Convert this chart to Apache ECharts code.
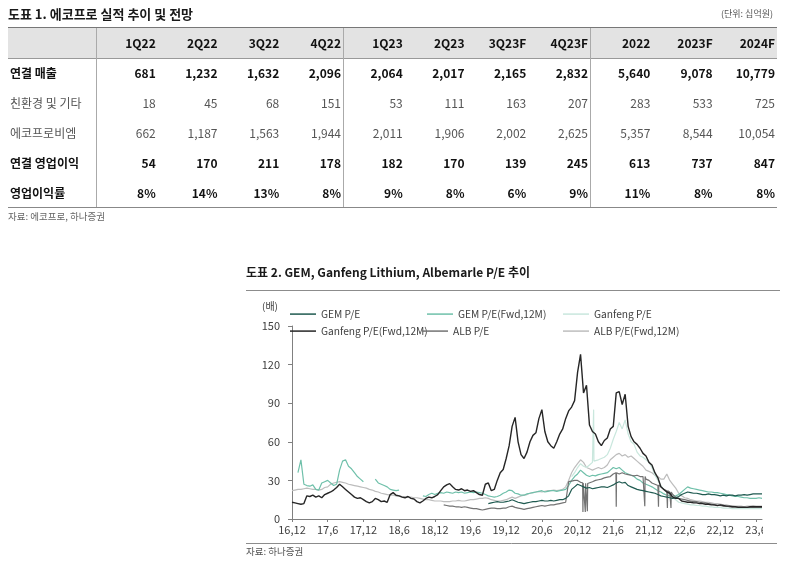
<!DOCTYPE html>
<html><head><meta charset="utf-8">
<script src="https://cdn.jsdelivr.net/npm/echarts/dist/echarts.min.js"></script>
<style>
html,body{margin:0;padding:0;background:#fff;width:787px;height:567px;overflow:hidden;font-family:'Noto Sans CJK KR','Noto Sans',sans-serif;}
#chart{position:absolute;left:0;top:0;width:787px;height:567px;}
#table{position:absolute;left:0;top:0;width:787px;height:230px;z-index:2;}
</style></head><body>
<div id="chart"></div><div id="table"></div>
<script>
// ---------------- Table 1 data ----------------
const tableTitle = '도표 1. 에코프로 실적 추이 및 전망';
const tableUnit = '(단위: 십억원)';
const tableSource = '자료: 에코프로, 하나증권';
const tableCols = ['1Q22','2Q22','3Q22','4Q22','1Q23','2Q23','3Q23F','4Q23F','2022','2023F','2024F'];
const rowLabels = ['연결 매출','친환경 및 기타','에코프로비엠','연결 영업이익','영업이익률'];
const revenue   = [681,1232,1632,2096,2064,2017,2165,2832,5640,9078,10779];
const ecoEtc    = [18,45,68,151,53,111,163,207,283,533,725];
const ecoproBM  = [662,1187,1563,1944,2011,1906,2002,2625,5357,8544,10054];
const opProfit  = [54,170,211,178,182,170,139,245,613,737,847];
const opMargin  = [8,14,13,8,9,8,6,9,11,8,8];

// ---------------- Chart 2 data (semi-monthly samples from 16.12, index/2 = months) ----------------
const chartTitle = '도표 2. GEM, Ganfeng Lithium, Albemarle P/E 추이';
const chartSource = '자료: 하나증권';
const yUnit = '(배)';
const seriesNames = ['GEM P/E','GEM P/E(Fwd,12M)','Ganfeng P/E','Ganfeng P/E(Fwd,12M)','ALB P/E','ALB P/E(Fwd,12M)'];
const N = k => Array(k).fill(null);

const gemPE = [
  ...N(24),
  ...N(24),
  ...N(18), 12,12.5,13,13.5,13,13,
  13.5,14,15,14,13,12.5, 12,12.5,13,13.5,13.5,14, 14.5,14,14,14.5,14,14.5, 15,15,16,18,23,25,
  27,26,25,24,24.5,23.5, 24,24.5,25,25,24.5,25.5, 26.5,28,29,28,28.5,26, 25,24,23,22.5,22,21.5,
  21,20.5,20,19,18,17.5, 17,16.5,16,16.5,17.5,19, 20,21,20.5,20,20,19.5, 19,19,19.5,19,19,18.5,
  18,18.5,18,18.5,18.5,18,18.5,18.5,19,18.5,19,19.5,19.5,19.5,19.5
];
const gemFwd = [
  null,null,36,46,27,26, 25.5,26.5,23,22.5,28,29, 30,28,26,27,38,45, 46,41,39,36,33,31,
  29,null,null,null,31,28, 27,26,25,23,22.5,22, 22.5,null,null,null,null,null, null,null,18,17.5,19,20,
  19,20,20.5,20,21,20.5, 20,21,20.5,21,20,20.5, 21,20.5,21,20.5,20,19, 18,17.5,17,17.5,18.5,20,
  21,22.5,22,20,19.5,18.5, 18.5,19.5,20,20.5,21,21.5, 22,21,21.5,22,22,21.5, 22,22.5,23,26,30,33,
  35,38,36,34,33,34, 33.5,34.5,35,35.5,36,38, 40,39,40,38,36,35, 34,33,31,30,28,27,
  26,25,23.5,22,21,19.5, 18.5,18,17.5,18,19,21, 23,25,24,23.5,23,22.5, 22,21.5,21,21,20.5,20.5,
  20,19.5,19,18.5,18,17.5,17.5,17,16.5,16.5,16,16,16,16.5,16
];
const ganfengPE = [
  ...N(24), ...N(24), ...N(24),
  ...N(22), 33,36,
  40,43,41,40,42,44, 45,46,47,48,50,55, 62,68,75,70,77,66, 60,58,52,49,48,46,
  44,40,34,30,26,23, 21,19,17,15,13,12.5, 12,11.5,11,11,10.5,10.5, 10,10,9.5,9.5,9,9,
  9,8.5,8.5,8.5,8,8,8,8,8,8,8,8,8,8,8
];
const ganfengSpike = [[50.65,44],[50.7,85],[50.75,45]];
const ganfengFwd = [
  13,12.5,12,11.5,12,18, 17.5,18.5,17,18,16.5,19, 20,21,22.5,24.5,27,25, 23,21,19,17,16,16.5,
  15,13.5,12.5,13.5,16,15, 13.5,14,13,19,20.5,18.5, 18,17,16.5,17.5,16,15.5, 13.5,12.5,14,16,17,16.5,
  17.5,19,22,25,26.5,27.5, 25,23,22.5,23.5,22,22.5, 21.5,22,20.5,19,18.5,27, 28,22,23,30,36,38.5,
  47,57,72,79,60,50, 47,52,60,65,67,78, 85,68,60,57,55,60, 66,70,78,84,87,92,
  114,128,98,104,73,68, 66,60,57,61,63,70, 72,98,99,89,97,72, 64,60,58,55,51,49,
  44,42,36,32,25,23, 21,20,17,16,16,14, 13.5,13,13,12.5,12.5,12, 12,11.5,11.5,11,11,10.5,
  11,10.5,10,10,9.5,9.5,9,9,9,9,9.5,9.5,9.5,9.5,9.5
];
const albPE = [
  ...N(24), ...N(24),
  null,null,null,11,10.5,10, 10,9.5,9.5,9,9.5,9, 8.5,8,8,7.5,7,7.5, 8,8.5,8.5,8,8,8.5,
  8.5,9.5,10,9,8.5,8, 7.5,8,8.5,9,9.5,10, 10.5,10,10.5,11,11,11.5, 12,12.5,13,29,29.5,30,
  30,28.5,28,27.5,28,29, 30,30.5,31,32,32.5,33, 35,36,35,36,35,34.5, 34,33.5,34,33,33,31,
  30,28,27,26,25,23, 22,21,19,17,16,15.5, 15,14.5,14,13.5,13.5,13, 12.5,12.5,12,11.5,11,10.5,
  10.5,10,10,9.5,9.5,9.5,9.5,9.5,9.5,9,9,9,9,9,9
];
const albDips = [
  [48.85,28.2],[48.9,5.5],[48.95,28],[49.25,27.8],[49.3,5.5],[49.35,27.7],[49.6,27.6],[49.65,6],[49.7,27.6],
  [54.45,36],[54.5,9.5],[54.55,36],[59.25,33],[59.3,10],[59.35,33],[61.55,26.5],[61.6,9.5],[61.65,26.5],
  [63.05,22.2],[63.1,8.5],[63.15,22],[63.65,21.2],[63.7,8.5],[63.75,21]
];
const albFwd = [
  22,22.5,23,23,23.5,24, 23.5,23,23,22.5,23,24.5, 25,27,28,28.5,29,28.5, 28,27,26.5,26,25.5,25,
  24.5,24,23,22.5,21.5,21, 20,19.5,19,18.5,18.5,18, 18,17.5,17.5,17,17,16.5, 16.5,16,15.5,15,15,14.5,
  14,14,14,13.5,13.5,13.5, 14,14,14.5,14,14,14.5, 15,15,15.5,16,16,16.5, 16,15,14.5,14,14,14.5,
  15,16,17,16,17,18, 18.5,19,20,20.5,21,21.5, 21,21.5,22,22,22.5,22, 22.5,23,25,30,36,40,
  43,46,44,40,39,38, 39,40,39,40,42,46, 48,50,51,49,50,48, 49,47,45,43,41,38,
  37,36,34,33,31,31, 35,30,27,24,20,18, 16.5,16,15,14.5,14,14, 13.5,13,13,12.5,12,12,
  11.5,11,11,10.5,10.5,10,10,10,9.5,10,10,10.5,10,10,10
];

// ---------------- Table drawing ----------------
const FONT = "'Noto Sans CJK KR','Noto Sans',sans-serif";
const tbl = document.getElementById('table');
function addDiv(css, text){
  const d = document.createElement('div');
  d.style.cssText = 'position:absolute;white-space:nowrap;' + css;
  if (text !== undefined) d.textContent = text;
  tbl.appendChild(d); return d;
}
const bounds = [8,96];
for (let k=1;k<=8;k++) bounds.push(96 + k*61.75);
for (let k=1;k<=3;k++) bounds.push(590 + k*(187/3));
addDiv('left:8px;top:4px;font-weight:bold;font-size:13px;line-height:20px;color:#1a1a1a;', tableTitle);
addDiv('right:14px;top:6px;font-size:9px;line-height:16px;color:#555;', tableUnit);
addDiv('left:8px;top:28px;width:769px;height:30px;background:#e3e3e3;');
addDiv('left:8px;top:27px;width:769px;height:0;border-top:1.5px solid #777;');
addDiv('left:8px;top:58px;width:769px;height:0;border-top:1px solid #999;');
addDiv('left:8px;top:207px;width:769px;height:0;border-top:1.2px solid #888;');
[96,343,590].forEach(x => addDiv('left:'+x+'px;top:28px;width:0;height:179px;border-left:1px solid #aaa;'));
tableCols.forEach((c,j) => {
  const l = bounds[j+1], w = bounds[j+2]-bounds[j+1]-2;
  addDiv('left:'+l+'px;top:28px;width:'+w+'px;height:30px;line-height:30px;text-align:right;font-weight:bold;font-size:12px;color:#111;', c);
});
const fmt = v => v.toLocaleString('en-US');
const rowsData = [revenue.map(fmt), ecoEtc.map(fmt), ecoproBM.map(fmt), opProfit.map(fmt), opMargin.map(v => v + '%')];
const boldRow = [true,false,false,true,true];
rowsData.forEach((row,r) => {
  const top = 58 + r*30;
  const st = boldRow[r] ? 'font-weight:bold;color:#111;' : 'font-weight:normal;color:#555;';
  addDiv('left:10px;top:'+top+'px;height:30px;line-height:30px;font-size:12px;'+st, rowLabels[r]);
  row.forEach((v,j) => {
    const l = bounds[j+1], w = bounds[j+2]-bounds[j+1]-2;
    addDiv('left:'+l+'px;top:'+top+'px;width:'+w+'px;height:30px;line-height:30px;text-align:right;font-size:12px;'+st, v);
  });
});
addDiv('left:8px;top:209px;font-size:9.5px;line-height:14px;color:#666;', tableSource);

// ---------------- Chart ----------------
function build(vals, extras){
  const pts = vals.map((v,i) => [i/2, v]);
  if (extras) { extras.forEach(p => pts.push(p)); pts.sort((a,b) => a[0]-b[0]); }
  return pts;
}
const colors = {
  'GEM P/E':'#1f5a50',
  'GEM P/E(Fwd,12M)':'#6fc0aa',
  'Ganfeng P/E':'#c9e7dd',
  'Ganfeng P/E(Fwd,12M)':'#262626',
  'ALB P/E':'#737373',
  'ALB P/E(Fwd,12M)':'#bdbdbd'
};
const dataMap = {
  'GEM P/E': build(gemPE),
  'GEM P/E(Fwd,12M)': build(gemFwd),
  'Ganfeng P/E': build(ganfengPE, ganfengSpike),
  'Ganfeng P/E(Fwd,12M)': build(ganfengFwd),
  'ALB P/E': build(albPE, albDips),
  'ALB P/E(Fwd,12M)': build(albFwd)
};
const drawOrder = ['ALB P/E(Fwd,12M)','Ganfeng P/E','GEM P/E(Fwd,12M)','ALB P/E','GEM P/E','Ganfeng P/E(Fwd,12M)'];
const series = drawOrder.map((name,k) => ({
  name, type:'line', data:dataMap[name], symbol:'none', showSymbol:false, connectNulls:false,
  lineStyle:{width: name==='Ganfeng P/E(Fwd,12M)' ? 1.4 : 1.2, color:colors[name]},
  itemStyle:{color:colors[name]}, z: 2+k, animation:false
}));
const legendLeft = [290,427,563,290,422,563];
const legendTop = [309,309,309,326,326,326];
const legends = seriesNames.map((name,k) => ({
  data:[name], left:legendLeft[k], top:legendTop[k], padding:0, itemWidth:26, itemHeight:1.5,
  icon:'rect', selectedMode:false, textStyle:{fontSize:10.2, color:'#404040', fontFamily:FONT}
}));

const chart = echarts.init(document.getElementById('chart'), null, {renderer:'canvas'});
chart.setOption({
  animation:false,
  textStyle:{fontFamily:FONT},
  grid:{left:292, top:326, width:470, height:193, containLabel:false},
  legend: legends,
  xAxis:{
    type:'value', min:0, max:79, interval:6,
    axisLine:{lineStyle:{color:'#808080', width:1}},
    axisTick:{show:true, length:3, lineStyle:{color:'#808080'}},
    splitLine:{show:false},
    axisLabel:{fontSize:11, color:'#404040', margin:5, showMaxLabel:false,
      formatter: v => { if (v % 6 !== 0) return ''; const yy = 16 + Math.floor((11+v)/12); const mm = ((11+v)%12)+1; return yy + ',' + mm; }}
  },
  yAxis:{
    type:'value', min:0, max:150, interval:30,
    axisLine:{show:true, lineStyle:{color:'#808080', width:1}},
    axisTick:{show:true, length:4, lineStyle:{color:'#808080'}},
    splitLine:{show:false},
    axisLabel:{fontSize:11, color:'#404040', margin:12}
  },
  series,
  graphic:[
    {type:'text', left:246, top:266, style:{text:chartTitle, font:'bold 12px '+FONT, fill:'#1a1a1a'}},
    {type:'line', shape:{x1:246,y1:290.5,x2:780,y2:290.5}, style:{stroke:'#8c8c8c', lineWidth:1}},
    {type:'text', left:262, top:301, style:{text:yUnit, font:'10px '+FONT, fill:'#404040'}},
    {type:'rect', shape:{x:763,y:296,width:24,height:244}, style:{fill:'#ffffff'}, z:100},
    {type:'line', shape:{x1:246,y1:543.5,x2:777,y2:543.5}, style:{stroke:'#8c8c8c', lineWidth:1}},
    {type:'text', left:246, top:547, style:{text:chartSource, font:'9.5px '+FONT, fill:'#555'}}
  ]
});
</script></body></html>
